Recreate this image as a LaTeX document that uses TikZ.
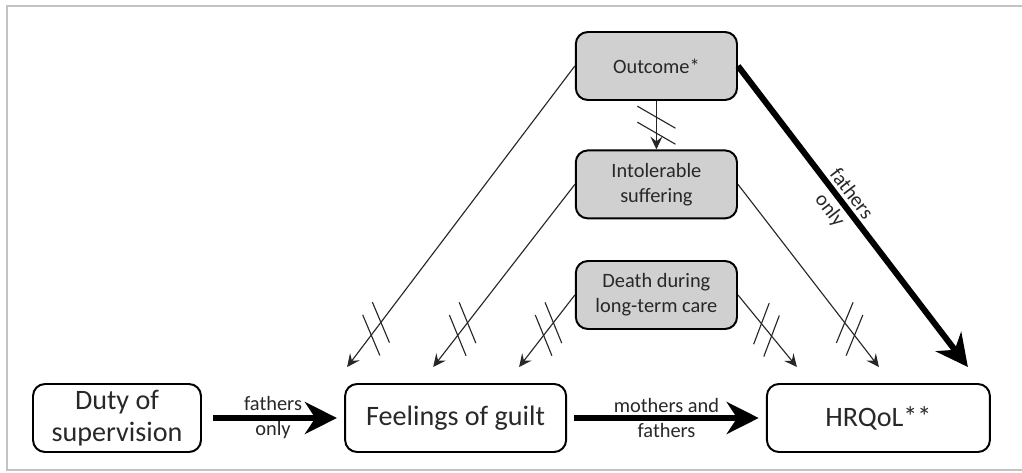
\documentclass[tikz,border=0pt]{standalone}
\usepackage{fontspec}
\setmainfont{Carlito}
\usetikzlibrary{arrows.meta,calc,decorations.markings}
\definecolor{boxgray}{RGB}{208,208,208}
\definecolor{inkgray}{RGB}{40,40,40}
\definecolor{framegray}{RGB}{195,195,195}
\tikzset{
	bigbox/.style={draw=black, line width=1.4pt, rounded corners=0.3cm, minimum width=#1, minimum height=1.7cm, align=center, font=\fontsize{20}{23}\selectfont, text=inkgray},
	graybox/.style={draw=black, fill=boxgray, line width=1.4pt, rounded corners=0.3cm, minimum width=4.03cm, minimum height=1.7cm, align=center, font=\fontsize{14.5}{17.8}\selectfont, text=inkgray},
	thinarrow/.style={draw=black!85, line width=0.8pt, -{Stealth[length=3.2mm,width=3mm,inset=1.2mm]}},
	thickarrow/.style={line width=4.3pt, -{Stealth[length=8mm,width=8mm,inset=2.6mm]}},
	arrowlabel/.style={font=\fontsize{14.5}{17.8}\selectfont, align=center, text=inkgray},
	nosig/.style 2 args={postaction={decorate}, decoration={markings, mark=at position #1 with {
		\draw[arrows=-, line width=0.8pt] (-0.2,0) ++(#2:-0.55) -- ++(#2:1.1);
		\draw[arrows=-, line width=0.8pt] (0.2,0) ++(#2:-0.55) -- ++(#2:1.1);}}}
}
\begin{document}
\begin{tikzpicture}
	\useasboundingbox (0,0) rectangle (25.55,11.8);
	\draw[framegray, line width=1.4pt] (26,11.65) -- (0.175,11.65) -- (0.175,0.05) -- (26,0.05);

	% mediators
	\node[graybox] (outcome) at (16.41,10.15) {Outcome*};
	\node[graybox] (suffering) at (16.41,7.19) {Intolerable\\suffering};
	\node[graybox] (death) at (16.41,4.425) {Death during\\long-term care};

	% main path
	\node[bigbox=4.2cm] (duty) at (2.925,1.35) {Duty of\\supervision};
	\node[bigbox=5.525cm] (guilt) at (11.39,1.35) {Feelings of guilt};
	\node[bigbox=5.575cm] (hrqol) at (21.96,1.35) {HRQoL**};

	\coordinate (g1) at ($(guilt.north west)+(0.075,0.4)$);
	\coordinate (g2) at ($(guilt.north)+(-0.56,0.4)$);
	\coordinate (g3) at ($(guilt.north east)+(-1.2,0.4)$);
	\coordinate (h1) at ($(hrqol.north west)+(0.775,0.4)$);
	\coordinate (h2) at ($(hrqol.north west)+(2.825,0.4)$);
	\coordinate (h3) at ($(hrqol.north east)+(-0.575,0.4)$);

	\draw[thickarrow, shorten <=0.275cm, shorten >=0.18cm] (duty) -- (guilt)
		node[midway, arrowlabel]{fathers\\only};
	\draw[thickarrow, shorten <=0.18cm, shorten >=0.18cm] (guilt) -- (hrqol)
		node[midway, arrowlabel]{mothers and\\fathers};
	\draw[thickarrow] (outcome.east) -- (h3)
		node[pos=0.45, sloped, above=-1pt, arrowlabel]{fathers}
		node[pos=0.45, sloped, below=-1pt, arrowlabel]{only};

	% non-significant paths
	\draw[thinarrow, nosig={0.5}{60}] (outcome) -- (suffering);
	\draw[thinarrow, nosig={-1.2cm}{60}] (outcome.west) -- (g1);
	\draw[thinarrow, nosig={-1.2cm}{60}] (suffering.west) -- (g2);
	\draw[thinarrow, nosig={-1.2cm}{60}] (death.west) -- (g3);
	\draw[thinarrow, nosig={-1.2cm}{-60}] (death.east) -- (h1);
	\draw[thinarrow, nosig={-1.2cm}{-60}] (suffering.east) -- (h2);
\end{tikzpicture}
\end{document}
